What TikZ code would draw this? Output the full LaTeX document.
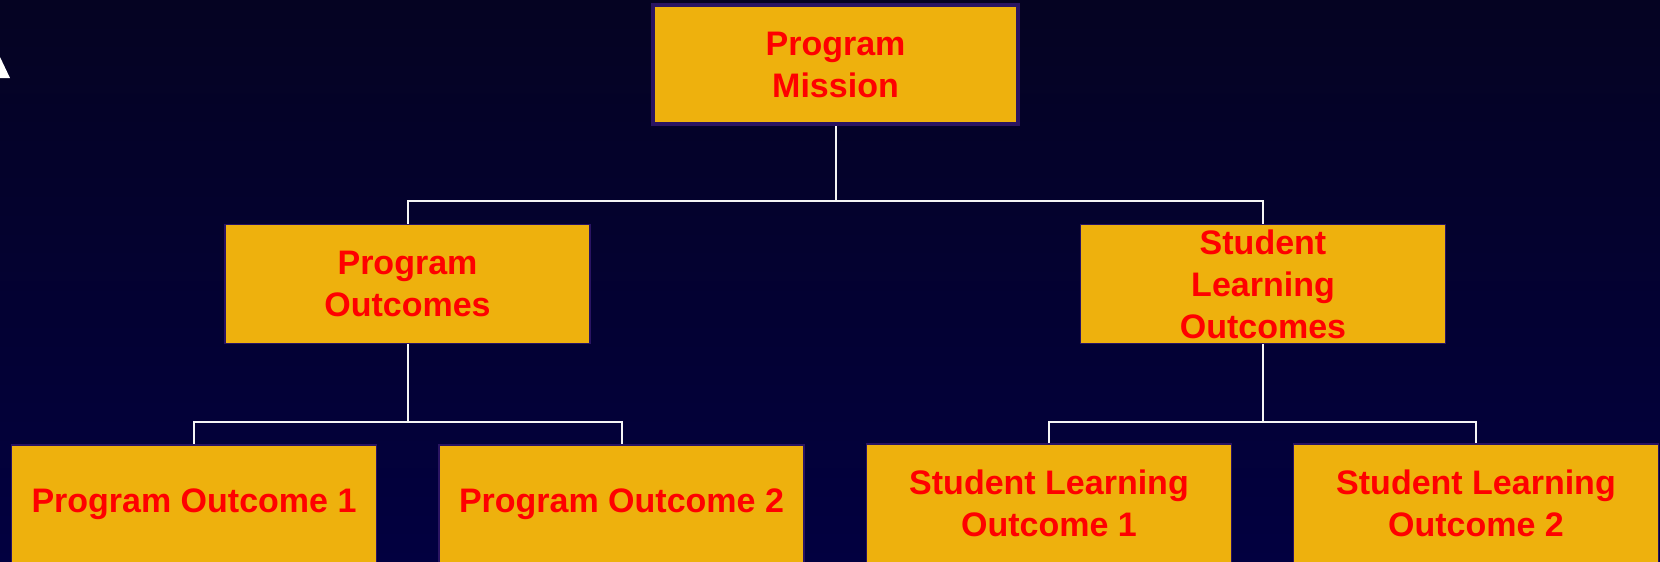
\documentclass[tikz,border=0pt]{standalone}
\usepackage{fontspec}
\setmainfont{Liberation Sans}
\begin{document}
\begin{tikzpicture}[x=1pt,y=-1pt,
  box/.style={draw=boxedge, line width=1.5pt, fill=boxfill, text=red,
    font=\fontsize{34}{42}\selectfont\bfseries, align=center,
    minimum width=365pt, minimum height=119pt, inner sep=0pt},
  conn/.style={draw=white!92!gray, line width=2pt}]
\definecolor{boxfill}{RGB}{238,177,13}
\definecolor{boxedge}{RGB}{42,20,98}
\definecolor{bgtop}{RGB}{5,3,34}
\definecolor{bgbot}{RGB}{2,0,64}
% backdrop
\shade[top color=bgtop, bottom color=bgbot] (0,0) rectangle (1660,562);
\useasboundingbox (0,0) rectangle (1660,562);
% stray white corner mark
\fill[white] (0,57) -- (10,78) -- (0,78) -- cycle;
\begin{scope}
\clip (0,0) rectangle (1660,562);
% boxes
\node[box, line width=4pt] (pm) at (835.5,64.5) {Program\\ Mission};
\node[box] (po)  at (407.5,284) {Program\\Outcomes};
\node[box] (slo) at (1263,284) {Student\\Learning\\Outcomes};
\node[box] (po1) at (194,504.5) {Program Outcome 1};
\node[box] (po2) at (621.5,504.5) {Program Outcome 2};
\node[box] (sl1) at (1049,503.5) {Student Learning\\Outcome 1};
\node[box] (sl2) at (1476,503.5) {Student Learning\\Outcome 2};
% tree connectors
\coordinate (j0) at (835.5,201);
\coordinate (j1) at (407.5,422);
\coordinate (j2) at (1263,422);
\draw[conn] (pm.south) -- (j0);
\draw[conn] (j0) -| (po.north);
\draw[conn] (j0) -| (slo.north);
\draw[conn] (po.south) -- (j1);
\draw[conn] (j1) -| (po1.north);
\draw[conn] (j1) -| (po2.north);
\draw[conn] (slo.south) -- (j2);
\draw[conn] (j2) -| (sl1.north);
\draw[conn] (j2) -| (sl2.north);
\end{scope}
\end{tikzpicture}
\end{document}
